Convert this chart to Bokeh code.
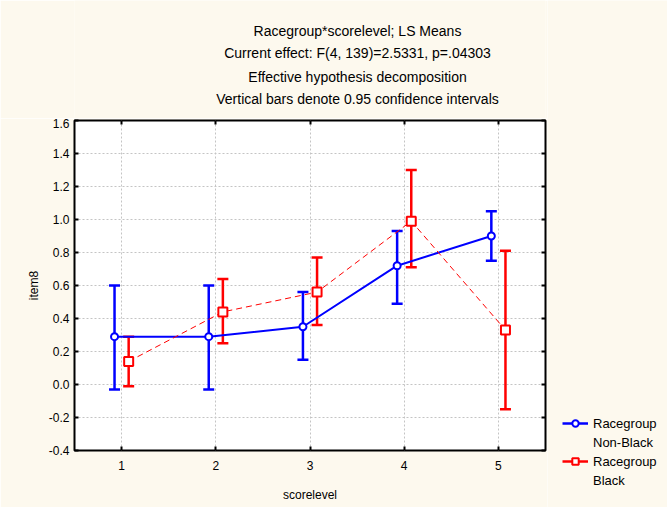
from bokeh.plotting import figure
from bokeh.layouts import column, row
from bokeh.models import (ColumnDataSource, Whisker, TeeHead, Label, Legend, LegendItem,
                          FixedTicker, NumeralTickFormatter, LinearAxis, Range1d,
                          CustomJSTickFormatter)
from bokeh.embed import file_html
from bokeh.resources import INLINE

# ---- data ----
score_levels = [1, 2, 3, 4, 5]
nonblack_mean = [0.29, 0.29, 0.35, 0.72, 0.90]
nonblack_lower = [-0.03, -0.03, 0.15, 0.49, 0.75]
nonblack_upper = [0.60, 0.60, 0.56, 0.93, 1.05]
black_mean = [0.14, 0.44, 0.56, 0.99, 0.33]
black_lower = [-0.01, 0.25, 0.36, 0.71, -0.15]
black_upper = [0.29, 0.64, 0.77, 1.30, 0.81]
x_ticks = [1, 2, 3, 4, 5]
y_ticks = [-0.4, -0.2, 0.0, 0.2, 0.4, 0.6, 0.8, 1.0, 1.2, 1.4, 1.6]
title_lines = [
    "Racegroup*scorelevel; LS Means",
    "Current effect: F(4, 139)=2.5331, p=.04303",
    "Effective hypothesis decomposition",
    "Vertical bars denote 0.95 confidence intervals",
]
x_title = "scorelevel"
y_title = "item8"
group_name = "Racegroup"
series_names = ["Non-Black", "Black"]

FONT = "Liberation Sans"
BG = "#fdf9ee"
BLUE = "#0000ff"
RED = "#ff0000"
offset_nb = -0.075
offset_b = 0.075


def bare(width, height):
    f = figure(width=width, height=height, output_backend="svg", toolbar_location=None,
               min_border=0, background_fill_color=BG, border_fill_color=BG,
               x_range=Range1d(-10, -9), y_range=Range1d(-10, -9))
    f.axis.visible = False
    f.grid.visible = False
    f.outline_line_color = None
    return f


src_nb = ColumnDataSource(dict(x=[s + offset_nb for s in score_levels], mean=nonblack_mean,
                               lower=nonblack_lower, upper=nonblack_upper))
src_b = ColumnDataSource(dict(x=[s + offset_b for s in score_levels], mean=black_mean,
                              lower=black_lower, upper=black_upper))

# ---------------- title block ----------------
tf = bare(547, 118)
title_y = [88, 66, 42, 20]
for txt, ty in zip(title_lines, title_y):
    tf.add_layout(Label(x=283, y=ty, x_units="screen", y_units="screen", text=txt,
                        text_align="center", text_baseline="middle", text_font=FONT,
                        text_font_size="14px", text_color="black"))

# ---------------- main plot ----------------
p = figure(width=547, height=389, x_range=Range1d(0.5, 5.5), y_range=Range1d(-0.4, 1.6),
           output_backend="svg", toolbar_location=None,
           min_border_left=74, min_border_right=2, min_border_top=2, min_border_bottom=57,
           background_fill_color="white", border_fill_color=BG)
p.outline_line_color = "black"
p.outline_line_width = 2

bottom_axis = p.below[0]
left_axis = p.left[0]
xt = FixedTicker(ticks=x_ticks)
yt = FixedTicker(ticks=y_ticks)
bottom_axis.ticker = xt
left_axis.ticker = yt
p.xgrid.ticker = xt
p.ygrid.ticker = yt
left_axis.formatter = NumeralTickFormatter(format="0.0")
p.grid.grid_line_color = "#c4c4c4"
p.grid.grid_line_dash = "2 2"
p.grid.grid_line_width = 1

blank = CustomJSTickFormatter(code="return ''")
top_axis = LinearAxis(ticker=xt, formatter=blank, major_label_standoff=0)
right_axis = LinearAxis(ticker=yt, formatter=blank, major_label_standoff=0)
p.add_layout(top_axis, "above")
p.add_layout(right_axis, "right")

for ax in [bottom_axis, left_axis, top_axis, right_axis]:
    ax.axis_line_color = None
    ax.major_tick_in = 4
    ax.major_tick_out = 0
    ax.major_tick_line_width = 2
    ax.major_tick_line_color = "black"
    ax.minor_tick_line_color = None
    ax.major_label_text_font = FONT
    ax.major_label_text_font_size = "12px"
    ax.major_label_text_color = "black"
    ax.axis_label_text_font = FONT
    ax.axis_label_text_font_size = "12px"
    ax.axis_label_text_font_style = "normal"
    ax.axis_label_text_color = "black"
bottom_axis.major_label_standoff = 10
left_axis.major_label_standoff = 5
bottom_axis.axis_label = x_title
bottom_axis.axis_label_standoff = 15
left_axis.axis_label = y_title
left_axis.axis_label_standoff = 5

for src, col in [(src_nb, BLUE), (src_b, RED)]:
    w = Whisker(source=src, base="x", upper="upper", lower="lower", dimension="height",
                line_color=col, line_width=2.5,
                upper_head=TeeHead(size=11, line_color=col, line_width=2.5),
                lower_head=TeeHead(size=11, line_color=col, line_width=2.5))
    p.add_layout(w)

p.line("x", "mean", source=src_nb, line_color=BLUE, line_width=2)
p.line("x", "mean", source=src_b, line_color=RED, line_width=1, line_dash="6 4")
p.scatter("x", "mean", source=src_nb, marker="circle", size=7, fill_color="white",
          line_color=BLUE, line_width=2)
p.scatter("x", "mean", source=src_b, marker="square", size=9, fill_color="white",
          line_color=RED, line_width=2)

# ---------------- legend block (its own full-height canvas) ----------------
lf = bare(120, 507)
lg_nb_line = lf.line("x", "mean", source=src_nb, line_color=BLUE, line_width=2.5)
lg_nb_mark = lf.scatter("x", "mean", source=src_nb, marker="circle", size=7,
                        fill_color="white", line_color=BLUE, line_width=2)
lg_b_line = lf.line("x", "mean", source=src_b, line_color=RED, line_width=2.5)
lg_b_mark = lf.scatter("x", "mean", source=src_b, marker="square", size=9,
                       fill_color="white", line_color=RED, line_width=2)
lg_blank = lf.line("x", "mean", source=src_b, line_alpha=0)

legend = Legend(items=[LegendItem(label=group_name, renderers=[lg_nb_line, lg_nb_mark]),
                       LegendItem(label=series_names[0], renderers=[lg_blank]),
                       LegendItem(label=group_name, renderers=[lg_b_line, lg_b_mark]),
                       LegendItem(label=series_names[1], renderers=[lg_blank])],
                location=(15, 19), orientation="vertical",
                label_text_font=FONT, label_text_font_size="13px", label_text_color="black",
                glyph_width=26, glyph_height=16, label_standoff=5, spacing=3,
                label_height=16,
                padding=0, margin=0, border_line_color=None, background_fill_alpha=0)
lf.add_layout(legend)

layout = row(column(tf, p), lf)
open("out.html", "w").write(file_html(layout, INLINE))
